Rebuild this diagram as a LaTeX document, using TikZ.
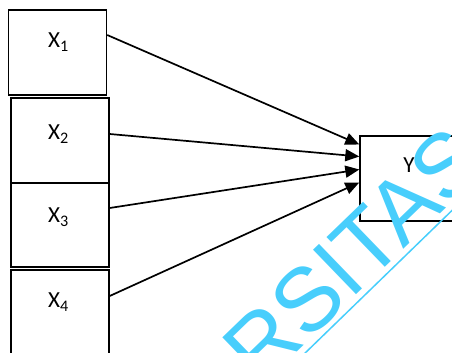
\documentclass[tikz,border=0pt]{standalone}
\usepackage{fontspec}
\setmainfont{Carlito}
\newfontfamily\wmfont{Liberation Sans}
\usetikzlibrary{arrows.meta}
\definecolor{wm}{RGB}{72,206,252}
\tikzset{
  box/.style={draw, line width=1.4pt, minimum width=98pt, inner sep=0pt},
  lbl/.style={font=\fontsize{23}{25}\selectfont, inner sep=0pt, anchor=base},
  conn/.style={line width=1.7pt, -{Triangle[length=14pt,width=12pt]}}
}
\begin{document}
\begin{tikzpicture}[x=1pt,y=1pt]
\useasboundingbox (0,0) rectangle (452,353);
\clip (0,0) rectangle (452,353);
% boxes
\node[box, minimum height=85pt] (X1) at (57.5,300.5) {};
\node[box, minimum height=85pt] (X2) at (60,212.5) {};
\node[box, minimum height=84pt] (X3) at (60,128) {};
\node[box, minimum height=103pt] (X4) at (60,31.5) {};
\node[box, minimum width=110pt, minimum height=85pt] (Y) at (415,174.5) {};
% labels
\node[lbl] (L1) at (58.5,305) {X\textsubscript{1}};
\node[lbl] (L2) at (58.5,213) {X\textsubscript{2}};
\node[lbl] (L3) at (58.5,130) {X\textsubscript{3}};
\node[lbl] (L4) at (58.5,45) {X\textsubscript{4}};
\node[lbl] (LY) at (409,180) {Y};
% connectors
\draw[conn] ([yshift=17.5pt]X1.east) -- ([yshift=34pt]Y.west);
\draw[conn] ([yshift=6.5pt]X2.east) -- ([yshift=22pt]Y.west);
\draw[conn] ([yshift=17pt]X3.east) -- ([yshift=9pt]Y.west);
\draw[conn] ([yshift=25.5pt]X4.east) -- ([yshift=-4pt]Y.west);
% watermark
\node[rotate=44, text=wm, font=\wmfont\fontsize{90}{90}\selectfont, inner sep=0pt, anchor=base] (wmtext) at (375,76) {RSITAS};
\draw[wm, line width=1.5pt] (300,-5) coordinate (wma) -- (470,160) coordinate (wmb);
\end{tikzpicture}
\end{document}
